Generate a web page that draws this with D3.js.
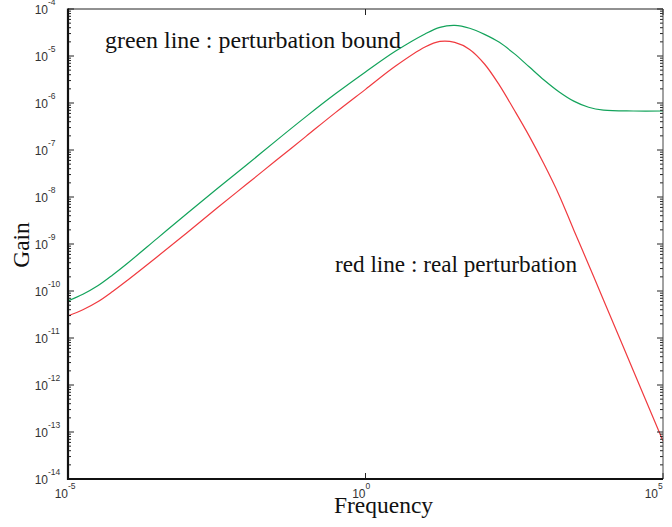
<!DOCTYPE html>
<html>
<head>
<meta charset="utf-8">
<script src="https://cdn.jsdelivr.net/npm/d3@7"></script>
<style>
  body { margin: 0; background: #fff; }
  svg { display: block; }
</style>
</head>
<body>
<svg width="672" height="527"></svg>
<script>
var svg = d3.select("svg"),
    width = +svg.attr("width"),
    height = +svg.attr("height");

// frequency, as log10 exponent
var freqExp = [-5, -4.75, -4.5, -4.25, -4, -3.5, -3, -2.5, -2, -1.5, -1, -0.5, 0, 0.5, 1, 1.25, 1.5, 1.75,
               2, 2.25, 2.5, 2.75, 3, 3.25, 3.5, 3.75, 4, 4.5, 5];
// gain of the perturbation bound (green), log10
var boundExp = [-10.21, -10.07, -9.89, -9.66, -9.41, -8.88, -8.35, -7.83, -7.32, -6.80, -6.29, -5.80,
                -5.34, -4.90, -4.53, -4.39, -4.35, -4.41, -4.54, -4.71, -4.95, -5.23, -5.51,
                -5.76, -5.96, -6.09, -6.15, -6.17, -6.17];
// gain of the real perturbation (red), log10
var realExp = [-10.53, -10.40, -10.23, -10.01, -9.77, -9.27, -8.76, -8.24, -7.73, -7.22, -6.71, -6.20,
               -5.71, -5.22, -4.81, -4.69, -4.71, -4.86, -5.17, -5.62, -6.15, -6.70, -7.30,
               -7.95, -8.70, -9.44, -10.19, -11.69, -13.19];

var xTickExp = [-5, 0, 5];
var yTickExp = [-14, -13, -12, -11, -10, -9, -8, -7, -6, -5, -4];

var margin = {left: 68, right: 9, top: 9, bottom: 48};

var x = d3.scaleLog().domain([1e-5, 1e5]).range([margin.left, width - margin.right]);
var y = d3.scaleLog().domain([1e-14, 1e-4]).range([height - margin.bottom, margin.top]);

var x0 = x.range()[0], x1 = x.range()[1], y0 = y.range()[0], y1 = y.range()[1];

function series(arr) {
  return freqExp.map(function(e, i) { return {f: Math.pow(10, e), g: Math.pow(10, arr[i])}; });
}

var line = d3.line()
    .x(function(d) { return x(d.f); })
    .y(function(d) { return y(d.g); })
    .curve(d3.curveCatmullRom.alpha(0.5));

//clip so the curves stay in the box
svg.append("clipPath").attr("id", "clip")
  .append("rect").attr("x", x0).attr("y", y1).attr("width", x1 - x0).attr("height", y0 - y1);

var plot = svg.append("g").attr("clip-path", "url(#clip)");

plot.append("path")
    .datum(series(boundExp))
    .attr("d", line)
    .attr("fill", "none")
    .attr("stroke", "#13a35b")
    .attr("stroke-width", 1.2);

plot.append("path")
    .datum(series(realExp))
    .attr("d", line)
    .attr("fill", "none")
    .attr("stroke", "#f03a3f")
    .attr("stroke-width", 1.2);

// y ticks, major + minor, on both sides pointing inwards
var ticks = svg.append("g").attr("stroke", "#222").attr("stroke-width", 1);
yTickExp.forEach(function(k) {
  var v = Math.pow(10, k);
  ticks.append("line").attr("x1", x0).attr("x2", x0 + 6).attr("y1", y(v)).attr("y2", y(v));
  ticks.append("line").attr("x1", x1).attr("x2", x1 - 6).attr("y1", y(v)).attr("y2", y(v));
  if (k < -4) {
    for (var m = 2; m < 10; m++) {
      var yy = y(m * v);
      ticks.append("line").attr("x1", x0).attr("x2", x0 + 3).attr("y1", yy).attr("y2", yy);
      ticks.append("line").attr("x1", x1).attr("x2", x1 - 3).attr("y1", yy).attr("y2", yy);
    }
  }
});
xTickExp.forEach(function(k) {
  var xx = x(Math.pow(10, k));
  ticks.append("line").attr("x1", xx).attr("x2", xx).attr("y1", y0).attr("y2", y0 - 6);
  ticks.append("line").attr("x1", xx).attr("x2", xx).attr("y1", y1).attr("y2", y1 + 6);
});

// box: top/right thin, left/bottom heavier
svg.append("line").attr("x1", x0).attr("x2", x1).attr("y1", y1).attr("y2", y1)
   .attr("stroke", "#222").attr("stroke-width", 1);
svg.append("line").attr("x1", x1).attr("x2", x1).attr("y1", y1).attr("y2", y0)
   .attr("stroke", "#444").attr("stroke-width", 1);
svg.append("line").attr("x1", x0).attr("x2", x0).attr("y1", y1 - 0.5).attr("y2", y0 + 1)
   .attr("stroke", "#111").attr("stroke-width", 2.2);
svg.append("line").attr("x1", x0 - 1).attr("x2", x1).attr("y1", y0).attr("y2", y0)
   .attr("stroke", "#111").attr("stroke-width", 2.2);

// tick labels like 10^-5
function powLabel(g, px, py, k, anchorShift) {
  g.append("text")
      .attr("x", px + anchorShift)
      .attr("y", py)
      .attr("text-anchor", "end")
      .attr("font-family", "Liberation Sans, Arial, sans-serif")
      .attr("font-size", 12)
      .attr("fill", "#333")
      .text("10");
  g.append("text")
      .attr("x", px + anchorShift)
      .attr("y", py - 9)
      .attr("font-family", "Liberation Sans, Arial, sans-serif")
      .attr("font-size", 8.5)
      .attr("fill", "#333")
      .text(String(k));
}

var labels = svg.append("g");
yTickExp.forEach(function(k) {
  powLabel(labels, x0 - 20, y(Math.pow(10, k)) + 5, k, 0);
});
xTickExp.forEach(function(k, i) {
  var shift = (i === xTickExp.length - 1) ? -5 : 0;
  powLabel(labels, x(Math.pow(10, k)), y0 + 19, k, shift);
});

// axis titles
svg.append("text")
    .attr("x", (x0 + x1) / 2 + 18)
    .attr("y", 513)
    .attr("text-anchor", "middle")
    .attr("font-family", "Liberation Serif, Times New Roman, serif")
    .attr("font-size", 23.5)
    .attr("fill", "#111")
    .text("Frequency");

svg.append("text")
    .attr("transform", "translate(29," + ((y0 + y1) / 2 + 1) + ") rotate(-90)")
    .attr("text-anchor", "middle")
    .attr("font-family", "Liberation Serif, Times New Roman, serif")
    .attr("font-size", 23.5)
    .attr("fill", "#111")
    .text("Gain");

// annotations
svg.append("text")
    .attr("x", 105)
    .attr("y", 48)
    .attr("font-family", "Liberation Serif, Times New Roman, serif")
    .attr("font-size", 23.5)
    .attr("textLength", 296)
    .attr("lengthAdjust", "spacingAndGlyphs")
    .attr("fill", "#111")
    .text("green line : perturbation bound");

svg.append("text")
    .attr("x", 335)
    .attr("y", 272)
    .attr("font-family", "Liberation Serif, Times New Roman, serif")
    .attr("font-size", 23.5)
    .attr("textLength", 242)
    .attr("lengthAdjust", "spacingAndGlyphs")
    .attr("fill", "#111")
    .text("red line : real perturbation");
</script>
</body>
</html>
